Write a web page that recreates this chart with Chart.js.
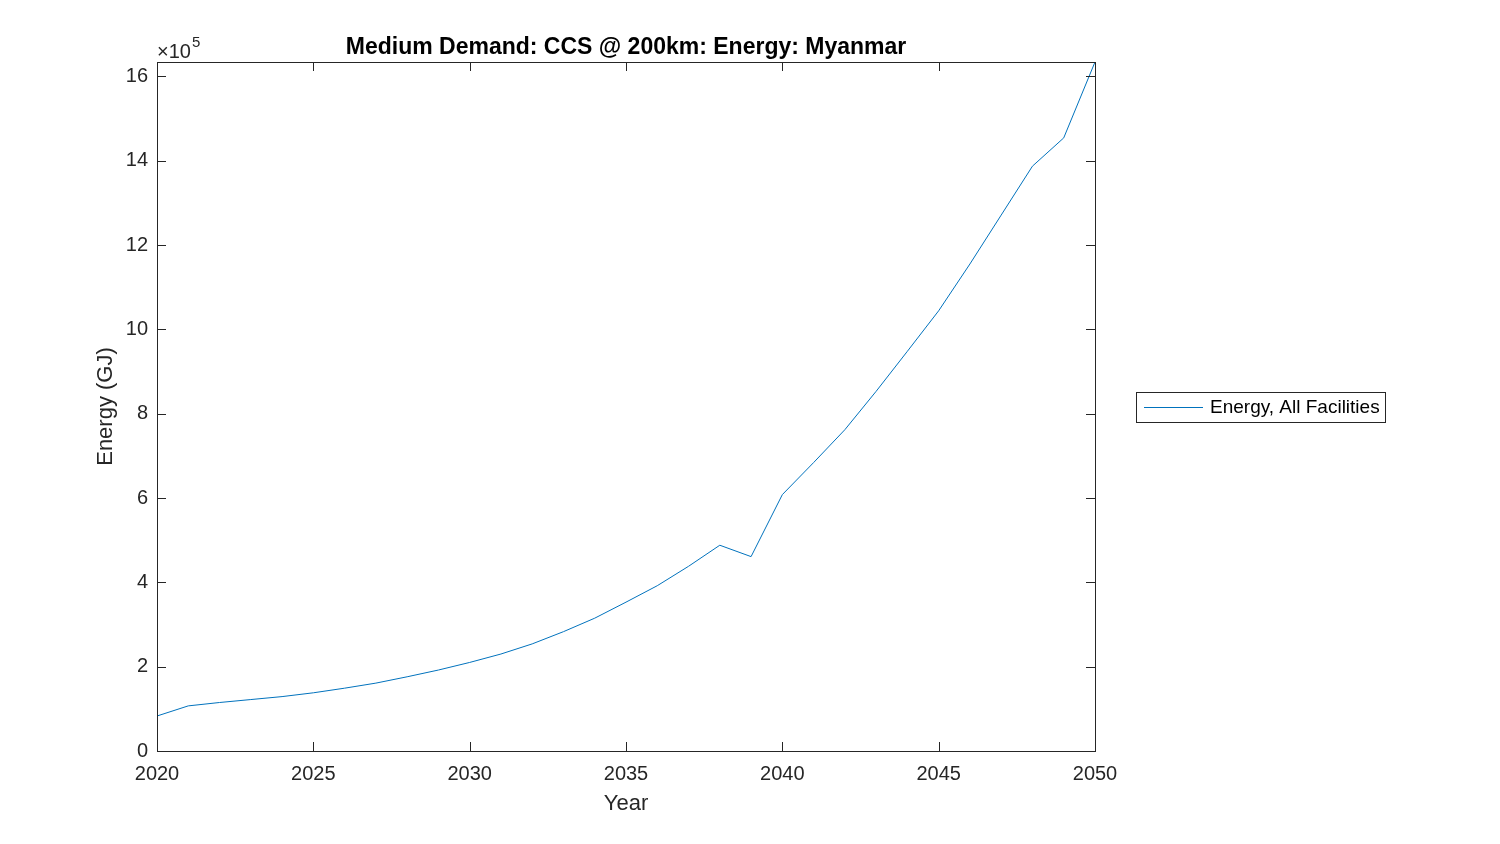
<!DOCTYPE html>
<html>
<head>
<meta charset="utf-8">
<script src="https://cdn.jsdelivr.net/npm/chart.js@4"></script>
<style>
  html, body { margin: 0; padding: 0; background: #fff; }
  #wrap { width: 1500px; height: 844px; }
</style>
</head>
<body>
<div id="wrap"><canvas id="energyChart" width="1500" height="844"></canvas></div>
<script>
// data (energy in GJ)
const years = [2020, 2021, 2022, 2023, 2024, 2025, 2026, 2027, 2028, 2029, 2030,
               2031, 2032, 2033, 2034, 2035, 2036, 2037, 2038, 2039, 2040,
               2041, 2042, 2043, 2044, 2045, 2046, 2047, 2048, 2049, 2050];
const energy = [83000, 107000, 115000, 122000, 129000, 138000, 149000, 161000, 176000, 192000, 210000,
                230000, 254000, 283000, 315000, 353000, 392000, 438000, 488000, 461000, 608000,
                684000, 762000, 853000, 948000, 1044000, 1155000, 1271000, 1387000, 1454000, 1634000];
const xTicks = [2020, 2025, 2030, 2035, 2040, 2045, 2050];
const yTicks = [0, 200000, 400000, 600000, 800000, 1000000, 1200000, 1400000, 1600000];

const titleText = 'Medium Demand: CCS @ 200km: Energy: Myanmar';
const seriesName = 'Energy, All Facilities';
const lineColor = '#0072BD';
const axisColor = '#262626';
const fontFam = '"Liberation Sans", Arial, sans-serif';

// MATLAB-like frame: box, inward ticks on all four sides, title, labels, legend
const matlabFrame = {
    id: 'matlabFrame',
    afterDraw(chart) {
        const ctx = chart.ctx;
        const a = chart.chartArea;
        const xs = chart.scales.x;
        const ys = chart.scales.y;
        ctx.save();
        ctx.strokeStyle = axisColor;
        ctx.lineWidth = 1;
        ctx.strokeRect(a.left + 0.5, a.top + 0.5, a.right - a.left, a.bottom - a.top);

        const tl = 9;
        ctx.beginPath();
        xTicks.forEach(t => {
            const px = Math.round(xs.getPixelForValue(t)) + 0.5;
            ctx.moveTo(px, a.bottom); ctx.lineTo(px, a.bottom - tl);
            ctx.moveTo(px, a.top); ctx.lineTo(px, a.top + tl);
        });
        yTicks.forEach(t => {
            const py = Math.round(ys.getPixelForValue(t)) + 0.5;
            ctx.moveTo(a.left, py); ctx.lineTo(a.left + tl, py);
            ctx.moveTo(a.right, py); ctx.lineTo(a.right - tl, py);
        });
        ctx.stroke();

        // title
        ctx.fillStyle = '#000';
        ctx.font = 'bold 23px ' + fontFam;
        ctx.textAlign = 'center';
        ctx.textBaseline = 'alphabetic';
        ctx.fillText(titleText, (a.left + a.right) / 2, 54);

        // exponent marker
        ctx.fillStyle = axisColor;
        ctx.textAlign = 'left';
        ctx.font = '20px ' + fontFam;
        ctx.fillText('\u00d710', 157, 58);
        const w = ctx.measureText('\u00d710').width;
        ctx.font = '15px ' + fontFam;
        ctx.fillText('5', 157 + w + 1, 47);

        // axis labels
        ctx.font = '22px ' + fontFam;
        ctx.textAlign = 'center';
        ctx.fillText('Year', (a.left + a.right) / 2, 810);
        ctx.save();
        ctx.translate(112, (a.top + a.bottom) / 2);
        ctx.rotate(-Math.PI / 2);
        ctx.fillText('Energy (GJ)', 0, 0);
        ctx.restore();

        // legend
        ctx.fillStyle = '#fff';
        ctx.fillRect(1136, 392, 249, 30);
        ctx.strokeStyle = axisColor;
        ctx.strokeRect(1136.5, 392.5, 249, 30);
        ctx.strokeStyle = lineColor;
        ctx.beginPath();
        ctx.moveTo(1144, 407.5); ctx.lineTo(1203, 407.5);
        ctx.stroke();
        ctx.fillStyle = '#000';
        ctx.font = '19px ' + fontFam;
        ctx.textAlign = 'left';
        ctx.textBaseline = 'middle';
        ctx.fillText(seriesName, 1210, 408);
        ctx.restore();
    }
};

const points = years.map((yr, i) => ({ x: yr, y: energy[i] }));

new Chart(document.getElementById('energyChart').getContext('2d'), {
    type: 'line',
    data: {
        datasets: [{
            label: seriesName,
            data: points,
            borderColor: lineColor,
            borderWidth: 1,
            pointRadius: 0,
            tension: 0,
            fill: false,
        }]
    },
    options: {
        responsive: false,
        animation: false,
        layout: { padding: { left: 0, top: 62, right: 405, bottom: 0 } },
        plugins: {
            legend: { display: false },
            title: { display: false },
            tooltip: { enabled: false }
        },
        scales: {
            x: {
                type: 'linear',
                min: 2020,
                max: 2050,
                afterBuildTicks: s => { s.ticks = xTicks.map(v => ({ value: v })); },
                afterFit: s => { s.height = 93; },
                grid: { display: false, drawTicks: false },
                border: { display: false },
                ticks: {
                    color: axisColor,
                    font: { family: fontFam, size: 20 },
                    padding: 11,
                    maxRotation: 0,
                    callback: v => String(v)
                }
            },
            y: {
                min: 0,
                max: Math.max(...energy),
                afterBuildTicks: s => { s.ticks = yTicks.map(v => ({ value: v })); },
                afterFit: s => { s.width = 157; },
                grid: { display: false, drawTicks: false },
                border: { display: false },
                ticks: {
                    color: axisColor,
                    font: { family: fontFam, size: 20 },
                    padding: 9,
                    callback: v => String(Math.round(v / 1e5))
                }
            }
        }
    },
    plugins: [matlabFrame]
});
</script>
</body>
</html>
